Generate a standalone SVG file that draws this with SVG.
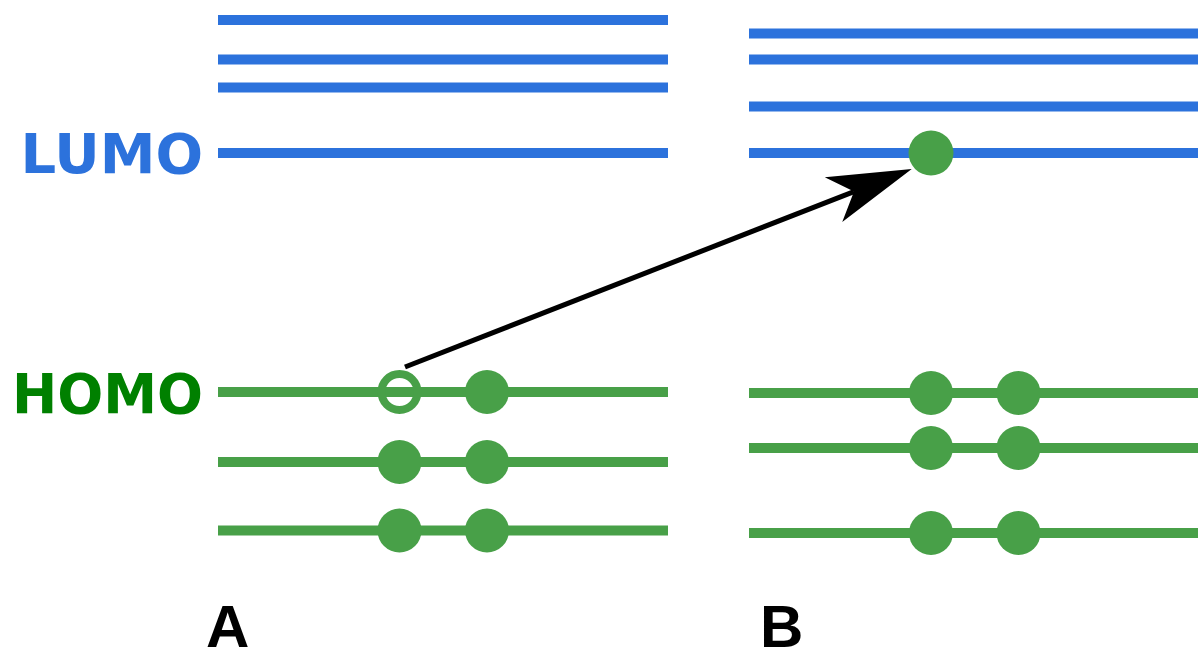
<svg xmlns="http://www.w3.org/2000/svg" width="1198" height="660" viewBox="0 0 1198 660">
  <defs>
    <style>
      .lumo { stroke: #2c72dc; stroke-width: 10; fill: none; }
      .homo { stroke: #48a048; stroke-width: 10; fill: none; }
      .e { fill: #48a048; }
      .hole { fill: none; stroke: #48a048; stroke-width: 8; }
      .lbl { font-family: "DejaVu Sans", sans-serif; font-weight: bold; font-size: 56px; }
      .pan { font-family: "Liberation Sans", Arial, sans-serif; font-weight: bold; font-size: 60px; fill: #000; }
      .arrow { stroke: #000; stroke-width: 5; fill: none; }
    </style>
    <marker id="head" viewBox="-90 -30 95 60" markerWidth="95" markerHeight="60" refX="-62" refY="0" markerUnits="userSpaceOnUse" orient="auto">
      <path d="M0,0 L-84,-24 L-62,0 L-84,24 Z" fill="#000"/>
    </marker>
  </defs>
  <rect width="1198" height="660" fill="#fff"/>

  <g id="labels">
    <text class="lbl" x="203" y="173" text-anchor="end" fill="#2c72dc">LUMO</text>
    <text class="lbl" x="203" y="413" text-anchor="end" fill="#008000" textLength="191" lengthAdjust="spacingAndGlyphs">HOMO</text>
    <text class="pan" x="206" y="647">A</text>
    <text class="pan" x="760" y="647">B</text>
  </g>

  <g id="panelA">
    <line class="lumo" x1="218" y1="20" x2="668" y2="20"/>
    <line class="lumo" x1="218" y1="59.5" x2="668" y2="59.5"/>
    <line class="lumo" x1="218" y1="87.5" x2="668" y2="87.5"/>
    <line class="lumo" x1="218" y1="153" x2="668" y2="153"/>
    <line class="homo" x1="218" y1="392" x2="668" y2="392"/>
    <line class="homo" x1="218" y1="462" x2="668" y2="462"/>
    <line class="homo" x1="218" y1="530.5" x2="668" y2="530.5"/>
    <circle class="hole" cx="399.5" cy="392" r="18"/>
    <circle class="e" cx="487" cy="392" r="22"/>
    <circle class="e" cx="399.5" cy="462" r="22"/>
    <circle class="e" cx="487" cy="462" r="22"/>
    <circle class="e" cx="399.5" cy="530.5" r="22"/>
    <circle class="e" cx="487" cy="530.5" r="22"/>
  </g>

  <g id="panelB">
    <line class="lumo" x1="749" y1="33.5" x2="1198" y2="33.5"/>
    <line class="lumo" x1="749" y1="59.5" x2="1198" y2="59.5"/>
    <line class="lumo" x1="749" y1="106.5" x2="1198" y2="106.5"/>
    <line class="lumo" x1="749" y1="153" x2="1198" y2="153"/>
    <line class="homo" x1="749" y1="393" x2="1198" y2="393"/>
    <line class="homo" x1="749" y1="448" x2="1198" y2="448"/>
    <line class="homo" x1="749" y1="533" x2="1198" y2="533"/>
    <circle class="e" cx="931" cy="153" r="22.5"/>
    <circle class="e" cx="931" cy="393" r="22"/>
    <circle class="e" cx="1018.5" cy="393" r="22"/>
    <circle class="e" cx="931" cy="448" r="22"/>
    <circle class="e" cx="1018.5" cy="448" r="22"/>
    <circle class="e" cx="931" cy="533" r="22"/>
    <circle class="e" cx="1018.5" cy="533" r="22"/>
  </g>

  <g id="connectors">
    <line class="arrow" x1="405" y1="367" x2="854" y2="191.6" marker-end="url(#head)"/>
  </g>
</svg>
